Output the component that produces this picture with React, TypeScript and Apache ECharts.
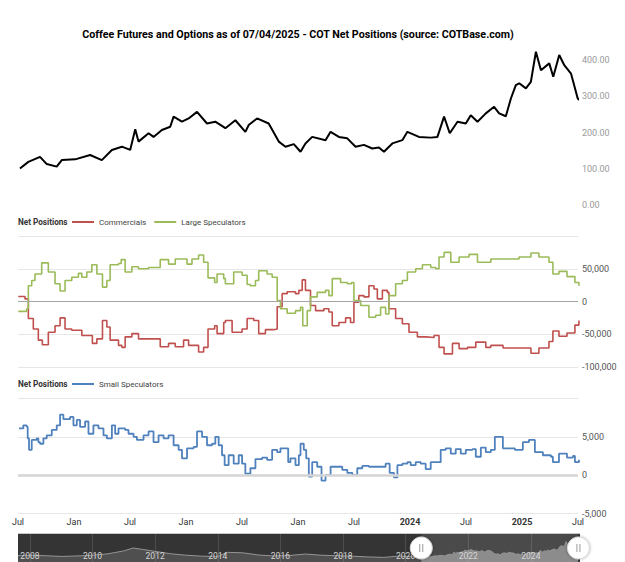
import React, { useEffect, useRef } from 'react';
import * as echarts from 'echarts';

const FONT = 'Roboto, "Liberation Sans", sans-serif';

const chartTitle = 'Coffee Futures and Options as of 07/04/2025 - COT Net Positions (source: COTBase.com)';
const panelLabel = 'Net Positions';

// x positions are months since Jul 2020
const xTickLabels = ['Jul', 'Jan', 'Jul', 'Jan', 'Jul', 'Jan', 'Jul', '2024', 'Jul', '2025', 'Jul'];

const priceMonths = [0.21, 1.11, 2.36, 3.08, 4.15, 4.69, 6.12, 7.73, 8.98, 10.06, 11.13, 12.02, 12.56, 12.91, 13.99, 14.52, 15.42, 16.31, 16.67, 17.57, 18.28, 19.18, 20.25, 21.14, 22.22, 23.29, 24.36, 24.72, 25.62, 26.86, 27.94, 28.66, 29.55, 30.27, 30.8, 31.52, 32.95, 33.49, 34.38, 35.28, 36.17, 37.06, 37.96, 38.67, 39.21, 40.11, 41.18, 41.72, 42.96, 44.22, 44.94, 45.65, 46.26, 47.09, 47.98, 48.51, 49.23, 50.12, 51.01, 51.55, 52.27, 52.81, 53.34, 53.7, 54.42, 54.95, 55.49, 56.03, 56.92, 57.35, 57.99, 58.53, 59.25, 59.97, 60.14];
const priceValues = [101, 119, 133, 113, 106, 124, 126, 138, 124, 152, 161, 152, 209, 175, 198, 188, 207, 216, 244, 230, 239, 257, 225, 230, 212, 234, 202, 221, 239, 225, 175, 161, 168, 147, 170, 188, 179, 202, 188, 184, 161, 166, 156, 159, 147, 170, 179, 202, 188, 186, 188, 244, 198, 230, 225, 248, 230, 253, 271, 253, 245, 294, 331, 336, 322, 340, 423, 372, 391, 354, 414, 386, 363, 294, 290];

const commMonths = [0.03, 0.75, 1.11, 1.64, 2.18, 2.61, 3.25, 3.97, 4.51, 5.04, 5.76, 6.41, 6.84, 7.55, 7.97, 8.45, 9.05, 9.52, 9.87, 10.77, 11.13, 11.48, 12.2, 12.91, 13.99, 15.24, 16.13, 16.85, 17.74, 18.28, 19.35, 19.89, 20.36, 21.07, 21.33, 22.04, 22.22, 22.94, 24.01, 24.55, 25.26, 25.79, 26.51, 27.4, 27.77, 28.3, 28.84, 29.73, 30.09, 30.45, 30.8, 31.34, 31.88, 32.77, 33.31, 33.67, 34.38, 35.1, 35.63, 35.99, 36.52, 37.06, 37.6, 38.14, 38.5, 39.04, 39.57, 39.74, 40.46, 41.18, 41.89, 42.79, 43.68, 44.58, 45.11, 45.65, 46.55, 47.26, 48.16, 49.05, 50.12, 50.66, 51.97, 53.68, 54.96, 55.81, 56.89, 57.31, 57.96, 58.82, 59.67, 60.1];
const commValues = [7600, 4000, -26000, -42000, -59000, -66000, -47000, -37000, -25000, -42000, -44000, -44000, -52000, -52000, -64000, -57000, -29000, -39000, -59000, -67000, -70000, -54000, -49000, -57000, -57000, -69000, -64000, -69000, -59000, -67000, -77000, -70000, -42000, -37000, -49000, -32000, -29000, -47000, -42000, -26000, -29000, -49000, -43000, -42000, -8000, 12000, 15000, 12000, 17000, 33000, 17000, -6000, -14000, -11000, -16000, -37000, -32000, -25000, -32000, -1000, 9000, 7000, 24000, 19000, 4000, 17000, 14000, -11000, -26000, -34000, -47000, -54000, -55000, -52000, -70000, -80000, -64000, -72000, -70000, -62000, -70000, -67000, -71000, -71000, -79000, -71000, -61000, -45000, -53000, -48000, -36000, -29000];

const largeMonths = [0.03, 0.93, 1.11, 1.47, 1.82, 2.54, 3.25, 3.97, 4.51, 5.04, 5.76, 6.47, 6.84, 7.37, 7.91, 8.45, 9.05, 9.52, 9.87, 10.77, 11.06, 11.48, 12.2, 12.91, 13.99, 15.24, 16.13, 16.85, 18.11, 18.64, 19.35, 19.89, 20.36, 21.07, 21.33, 22.04, 22.22, 23.11, 24.01, 24.55, 24.9, 25.44, 25.79, 26.69, 27.23, 27.77, 28.12, 28.84, 29.73, 30.27, 30.51, 30.99, 31.34, 32.06, 32.95, 33.31, 33.67, 34.56, 35.28, 35.74, 35.99, 36.71, 37.6, 38.32, 38.85, 39.39, 39.74, 40.46, 41.18, 41.72, 42.61, 43.33, 44.22, 44.76, 45.11, 45.65, 46.37, 47.26, 48.33, 49.23, 50.66, 51.97, 53.68, 54.96, 55.81, 56.89, 57.31, 57.96, 58.82, 59.67, 60.1];
const largeValues = [-15000, -11000, 24000, 32000, 42000, 59000, 45000, 27000, 16000, 32000, 37000, 43000, 37000, 45000, 56000, 42000, 22000, 32000, 56000, 58000, 64000, 45000, 53000, 50000, 52000, 64000, 57000, 65000, 57000, 65000, 71000, 60000, 36000, 29000, 42000, 35000, 27000, 45000, 40000, 26000, 24000, 32000, 47000, 42000, 37000, 1500, -11000, -18000, -14000, -9000, -37000, -14000, 7000, 14000, 17000, 9000, 35000, 29000, 27000, 29000, 1500, -6000, -24000, -21000, -9000, -19000, 9000, 27000, 32000, 45000, 50000, 56000, 52000, 50000, 68000, 75000, 60000, 68000, 72000, 60000, 65000, 65000, 68000, 74000, 68000, 60000, 42000, 46000, 38000, 29000, 24000];

const smallMonths = [0.11, 0.57, 0.93, 1.04, 1.18, 1.47, 2.01, 2.18, 2.36, 2.72, 3.08, 3.62, 4.15, 4.51, 4.86, 5.58, 5.94, 6.3, 6.65, 7.19, 7.55, 8.08, 8.62, 9.16, 9.52, 10.06, 10.41, 10.77, 11.48, 11.84, 12.38, 12.74, 13.45, 13.99, 14.52, 15.06, 15.6, 16.13, 16.67, 17.21, 17.57, 18.11, 18.82, 19.18, 19.72, 20.25, 20.79, 21.14, 21.5, 21.86, 22.14, 22.57, 23.11, 23.65, 24.01, 24.36, 24.9, 25.44, 26.16, 26.69, 27.23, 27.77, 28.12, 28.66, 28.95, 29.19, 29.73, 30.09, 30.27, 30.62, 30.88, 31.16, 31.52, 32.06, 32.52, 32.95, 33.49, 34.21, 34.74, 35.28, 35.82, 36.35, 36.89, 37.6, 38.67, 39.39, 39.82, 40.28, 40.65, 41.18, 41.72, 42.07, 42.61, 43.15, 43.68, 44.22, 44.76, 45.29, 45.83, 46.37, 46.9, 47.44, 47.98, 48.7, 49.05, 49.59, 50.12, 50.66, 51.09, 51.95, 53.24, 54.09, 54.74, 55.38, 56.24, 57.1, 57.31, 57.96, 58.82, 59.46, 59.67, 60.1];
const smallValues = [6100, 6500, 6300, 4800, 3300, 4600, 4800, 4300, 4100, 4800, 5200, 5900, 6500, 7900, 7300, 7600, 6500, 7200, 6300, 7000, 5400, 6500, 6100, 5200, 4800, 6500, 5400, 6100, 5900, 5400, 5000, 4600, 5200, 5700, 4300, 5200, 4800, 5200, 3900, 3300, 2200, 3500, 3700, 5700, 5000, 3900, 4100, 5000, 3900, 2600, 1300, 2600, 1500, 2600, 1500, 200, 900, 2100, 2300, 2000, 3300, 3000, 3500, 3500, 1700, 2200, 1300, 2600, 4100, 3300, 2200, -200, 1700, 1100, -700, 0, 1100, 1100, 700, 300, 0, 900, 1200, 1100, 1100, 1500, 300, -300, 1300, 1500, 1700, 1300, 1700, 1500, 800, 1700, 1700, 3300, 3500, 2800, 3400, 2800, 3300, 3400, 2400, 3600, 3000, 3300, 5000, 3500, 3300, 4300, 4600, 3000, 2600, 2400, 1700, 2800, 2300, 2500, 1700, 2000];

// navigator: price history before the zoomed window (x in years)
const navHistYears = [2007.62, 2008.0, 2008.5, 2009.0, 2009.5, 2010.0, 2010.5, 2011.0, 2011.3, 2011.6, 2012.0, 2012.5, 2013.0, 2013.5, 2014.0, 2014.3, 2014.8, 2015.3, 2015.8, 2016.3, 2016.8, 2017.3, 2017.8, 2018.3, 2018.8, 2019.3, 2019.8, 2020.2];
const navHistValues = [135, 140, 130, 115, 125, 140, 170, 230, 290, 260, 220, 170, 140, 120, 115, 200, 190, 145, 125, 135, 165, 140, 130, 120, 105, 95, 125, 110];
const navYearLabels = [2008, 2010, 2012, 2014, 2016, 2018, 2020, 2022, 2024];
const navRange = [2007.62, 2025.57];
const navSelection = [2020.5, 2025.52];
const windowStartYear = 2020.5;

const COLORS = { price: '#000000', comm: '#c0504d', large: '#9bbb59', small: '#4f81bd' };

const fmtThousands = (v: number) => {
  const s = Math.abs(v).toString().replace(/\B(?=(\d{3})+(?!\d))/g, ',');
  return (v < 0 ? '-' : '') + s;
};

export default function App() {
  const ref = useRef<HTMLDivElement>(null);
  useEffect(() => {
    const chart = echarts.init(ref.current!, null, { renderer: 'svg' });
    const zip = (t: number[], v: number[]) => t.map((x, i) => [x, v[i]]);
    const navData = zip(navHistYears, navHistValues).concat(
      priceMonths.map((m, i) => [windowStartYear + m / 12, priceValues[i]])
    );

    const gridL = 18, gridR = 47;
    const navTop = 533, navH = 30;
    const hiddenX = (gi: number) => ({
      type: 'value', gridIndex: gi, min: 0, max: 60, interval: 6, show: false,
    });
    const legendBase = {
      left: 72, itemWidth: 22, itemHeight: 2, itemGap: 8, icon: 'rect', padding: 0, selectedMode: false,
      textStyle: { fontSize: 8, color: '#444', fontFamily: FONT },
    };
    const panelTitle = (top: number) => ({
      text: panelLabel, left: gridL, top, padding: 0,
      textStyle: { fontSize: 8.2, fontWeight: 'bold', color: '#333', fontFamily: FONT },
    });

    const option: any = {
      animation: false,
      backgroundColor: '#ffffff',
      textStyle: { fontFamily: FONT },
      title: [
        {
          text: chartTitle, left: 298, top: 29, textAlign: 'center', padding: 0,
          textStyle: { fontSize: 10.7, fontWeight: 'bold', color: '#000', fontFamily: FONT },
        },
        panelTitle(218),
        panelTitle(380),
      ],
      grid: [
        { left: gridL, right: gridR, top: 42, height: 163 },
        { left: gridL, right: gridR, top: 236, height: 131 },
        { left: gridL, right: gridR, top: 398.5, height: 115 },
        { left: gridL, right: 45, top: navTop, height: navH, show: true, backgroundColor: '#4a4a4a', borderWidth: 0 },
      ],
      legend: [
        { ...legendBase, data: ['Commercials', 'Large Speculators'], top: 218 },
        { ...legendBase, data: ['Small Speculators'], top: 380 },
      ],
      xAxis: [
        hiddenX(0),
        hiddenX(1),
        {
          type: 'value', gridIndex: 2, min: 0, max: 60, interval: 6,
          axisLine: { show: false }, axisTick: { show: false }, splitLine: { show: false },
          axisLabel: {
            show: true, margin: 4, fontSize: 9, color: '#333', fontFamily: FONT,
            showMinLabel: true, showMaxLabel: true,
            formatter: (v: number) => {
              const s = xTickLabels[Math.round(v / 6)] ?? '';
              return /^\d{4}$/.test(s) ? `{b|${s}}` : s;
            },
            rich: { b: { fontWeight: 'bold', fontSize: 9, color: '#333', fontFamily: FONT } },
          },
        },
        {
          type: 'value', gridIndex: 3, min: navRange[0], max: navRange[1], z: 5,
          axisLine: { show: false }, splitLine: { show: false },
          axisTick: { show: true, inside: true, length: navH, customValues: navYearLabels, lineStyle: { color: 'rgba(255,255,255,0.12)' } },
          axisLabel: {
            show: true, inside: true, customValues: navYearLabels, align: 'center', margin: 2,
            color: '#d6d6d6', fontSize: 8.5, fontFamily: FONT,
            formatter: (v: number) => String(Math.round(v)),
          },
        },
      ],
      yAxis: [
        {
          type: 'value', gridIndex: 0, position: 'right', min: 0, max: 450, interval: 100,
          axisLine: { show: false }, axisTick: { show: false }, splitLine: { show: false },
          axisLabel: {
            margin: 4, fontSize: 9, color: '#999', fontFamily: FONT,
            formatter: (v: number) => (v % 100 === 0 ? v.toFixed(2) : ''),
          },
        },
        {
          type: 'value', gridIndex: 1, position: 'right', min: -100000, max: 100000, interval: 50000,
          axisLine: { show: false }, axisTick: { show: false },
          splitLine: { show: true, lineStyle: { color: '#e6e6e6', width: 1 } },
          axisLabel: {
            margin: 4, fontSize: 9, color: '#555', fontFamily: FONT,
            formatter: (v: number) => (v >= 100000 ? '' : fmtThousands(v)),
          },
        },
        {
          type: 'value', gridIndex: 2, position: 'right', min: -5000, max: 10000, interval: 5000,
          axisLine: { show: false }, axisTick: { show: false },
          splitLine: { show: true, lineStyle: { color: '#e6e6e6', width: 1 } },
          axisLabel: {
            margin: 4, fontSize: 9, color: '#555', fontFamily: FONT,
            formatter: (v: number) => (v >= 10000 ? '' : fmtThousands(v)),
          },
        },
        { type: 'value', gridIndex: 3, min: 0, max: 600, show: false },
      ],
      series: [
        {
          name: 'Coffee', type: 'line', xAxisIndex: 0, yAxisIndex: 0, data: zip(priceMonths, priceValues),
          symbol: 'none', lineStyle: { color: COLORS.price, width: 2 }, itemStyle: { color: COLORS.price },
        },
        {
          name: 'Commercials', type: 'line', xAxisIndex: 1, yAxisIndex: 1, step: 'end', data: zip(commMonths, commValues),
          symbol: 'none', lineStyle: { color: COLORS.comm, width: 1.6 }, itemStyle: { color: COLORS.comm },
          markLine: {
            silent: true, symbol: 'none', label: { show: false },
            lineStyle: { color: '#a6a6a6', width: 1, type: 'solid' }, data: [{ yAxis: 0 }],
          },
        },
        {
          name: 'Large Speculators', type: 'line', xAxisIndex: 1, yAxisIndex: 1, step: 'end', data: zip(largeMonths, largeValues),
          symbol: 'none', lineStyle: { color: COLORS.large, width: 1.6 }, itemStyle: { color: COLORS.large },
        },
        {
          name: 'Small Speculators', type: 'line', xAxisIndex: 2, yAxisIndex: 2, step: 'end', data: zip(smallMonths, smallValues),
          symbol: 'none', lineStyle: { color: COLORS.small, width: 1.8 }, itemStyle: { color: COLORS.small },
          markLine: {
            silent: true, symbol: 'none', label: { show: false },
            lineStyle: { color: '#d4d4d4', width: 2.5, type: 'solid' }, data: [{ yAxis: 0 }],
          },
        },
        {
          name: 'Navigator', type: 'line', xAxisIndex: 3, yAxisIndex: 3, data: navData,
          symbol: 'none', lineStyle: { color: '#959595', width: 1 }, areaStyle: { color: '#8c8c8c', opacity: 1 },
          silent: true,
        },
      ],
    };
    chart.setOption(option);

    const px = (v: number) => chart.convertToPixel({ xAxisIndex: 3 }, v) as number;
    const x1 = px(navSelection[0]);
    const x2 = px(navSelection[1]);
    const xL = px(navRange[0]);
    const xR = px(navRange[1]);
    const hy = 548, hr = 11;
    const handle = (cx: number, id: string) => [
      {
        type: 'circle', id: id + 'c', z: 100, shape: { cx, cy: hy, r: hr },
        style: { fill: '#ffffff', stroke: '#d8d8d8', lineWidth: 1, shadowBlur: 3, shadowColor: 'rgba(0,0,0,0.35)' },
      },
      { type: 'line', id: id + 'l1', z: 101, shape: { x1: cx - 1.5, y1: hy - 4, x2: cx - 1.5, y2: hy + 4 }, style: { stroke: '#999', lineWidth: 1 } },
      { type: 'line', id: id + 'l2', z: 101, shape: { x1: cx + 1.5, y1: hy - 4, x2: cx + 1.5, y2: hy + 4 }, style: { stroke: '#999', lineWidth: 1 } },
    ];
    chart.setOption({
      graphic: [
        {
          type: 'rect', id: 'maskL', z: 3, silent: true,
          shape: { x: xL, y: navTop, width: x1 - xL, height: navH },
          style: { fill: 'rgba(39,39,39,0.6)' },
        },
        {
          type: 'rect', id: 'maskR', z: 3, silent: true,
          shape: { x: x2, y: navTop, width: xR - x2, height: navH },
          style: { fill: 'rgba(39,39,39,0.6)' },
        },
        {
          type: 'line', id: 'navTopLine', z: 4, silent: true,
          shape: { x1: xL, y1: navTop + 0.5, x2: xR, y2: navTop + 0.5 },
          style: { stroke: '#c8c8c8', lineWidth: 1 },
        },
        ...handle(x1, 'h1'),
        ...handle(x2, 'h2'),
      ],
    });

    return () => chart.dispose();
  }, []);
  return <div ref={ref} style={{ position: 'absolute', left: 0, top: 0, width: 625, height: 562 }} />;
}
